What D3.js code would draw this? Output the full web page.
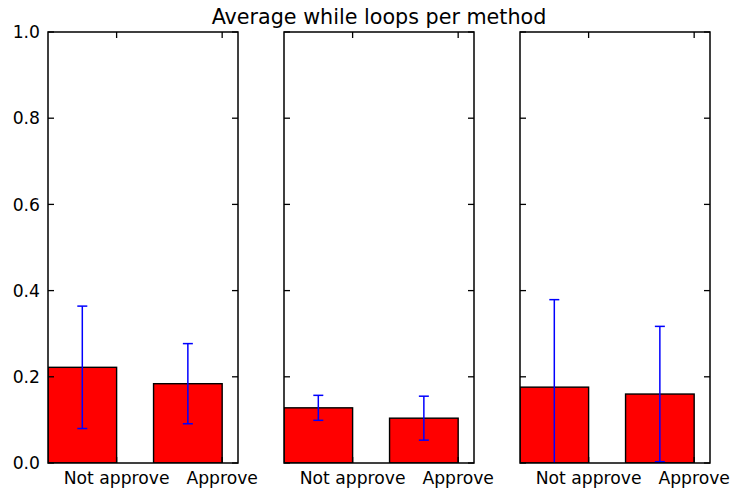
<!DOCTYPE html>
<html>
<head>
<meta charset="utf-8">
<script src="https://cdn.jsdelivr.net/npm/d3@7"></script>
<style>
  html, body { margin: 0; padding: 0; background: #fff; }
  svg { display: block; font-family: "DejaVu Sans", sans-serif; }
</style>
</head>
<body>
<svg id="chart" width="732" height="492"></svg>
<script>
// Average while loops per method: one panel per method, two groups each
const title = "Average while loops per method";
const categories = ["Not approve", "Approve"];
const panelMeans = [
  [0.222, 0.184],
  [0.128, 0.104],
  [0.176, 0.160]
];
const panelErrors = [
  [0.142, 0.093],
  [0.029, 0.051],
  [0.203, 0.157]
];
const yTickValues = [0.0, 0.2, 0.4, 0.6, 0.8, 1.0];

const svg = d3.select("#chart");
const W = 732, H = 492;
const plotTop = 32, plotBottom = 463;
const panelW = 190, panelGap = 46, firstLeft = 48;
const barWidth = 0.65;
const tickLen = 6;
const fontSize = 17.2;

const y = d3.scaleLinear().domain([0, 1]).range([plotBottom, plotTop]);

svg.append("rect").attr("width", W).attr("height", H).attr("fill", "#fff");

const defs = svg.append("defs");

panelMeans.forEach((means, p) => {
  const left = firstLeft + p * (panelW + panelGap);
  const x = d3.scaleLinear().domain([0, 1.8]).range([left, left + panelW]);
  const g = svg.append("g");

  const clipId = "clip" + p;
  defs.append("clipPath").attr("id", clipId)
    .append("rect").attr("x", left).attr("y", plotTop)
    .attr("width", panelW).attr("height", plotBottom - plotTop);

  const plot = g.append("g").attr("clip-path", `url(#${clipId})`);

  // bars: left edge at category index
  plot.selectAll("rect.bar").data(means).join("rect")
    .attr("class", "bar")
    .attr("x", (d, i) => x(i))
    .attr("y", d => y(d))
    .attr("width", (d, i) => x(i + barWidth) - x(i))
    .attr("height", d => y(0) - y(d))
    .attr("fill", "#ff0000")
    .attr("stroke", "#000")
    .attr("stroke-width", 1.4);

  // error bars
  const errs = panelErrors[p];
  const eg = plot.selectAll("g.err").data(means).join("g").attr("class", "err");
  const cx = (i) => x(i + barWidth / 2);
  eg.append("line")
    .attr("x1", (d, i) => cx(i)).attr("x2", (d, i) => cx(i))
    .attr("y1", (d, i) => y(d - errs[i])).attr("y2", (d, i) => y(d + errs[i]))
    .attr("stroke", "#0000ff").attr("stroke-width", 1.5);
  [1, -1].forEach(s => {
    eg.append("line")
      .attr("x1", (d, i) => cx(i) - 5).attr("x2", (d, i) => cx(i) + 5)
      .attr("y1", (d, i) => y(d + s * errs[i])).attr("y2", (d, i) => y(d + s * errs[i]))
      .attr("stroke", "#0000ff").attr("stroke-width", 1.5);
  });

  // frame
  g.append("rect")
    .attr("x", left).attr("y", plotTop)
    .attr("width", panelW).attr("height", plotBottom - plotTop)
    .attr("fill", "none").attr("stroke", "#000").attr("stroke-width", 1.5);

  // y ticks inward on both spines
  yTickValues.forEach(v => {
    g.append("line").attr("x1", left).attr("x2", left + tickLen)
      .attr("y1", y(v)).attr("y2", y(v)).attr("stroke", "#000").attr("stroke-width", 1.3);
    g.append("line").attr("x1", left + panelW).attr("x2", left + panelW - tickLen)
      .attr("y1", y(v)).attr("y2", y(v)).attr("stroke", "#000").attr("stroke-width", 1.3);
  });

  // x ticks at bar right edges, top and bottom
  categories.forEach((c, i) => {
    const tx = x(i + barWidth);
    g.append("line").attr("x1", tx).attr("x2", tx)
      .attr("y1", plotTop).attr("y2", plotTop + tickLen).attr("stroke", "#000").attr("stroke-width", 1.3);
    g.append("line").attr("x1", tx).attr("x2", tx)
      .attr("y1", plotBottom).attr("y2", plotBottom - tickLen).attr("stroke", "#000").attr("stroke-width", 1.3);
    g.append("text")
      .attr("x", tx).attr("y", plotBottom + 20.5)
      .attr("text-anchor", "middle")
      .attr("font-size", fontSize)
      .attr("fill", "#000")
      .text(c);
  });

  // y tick labels only on the first panel
  if (p === 0) {
    g.selectAll("text.ylab").data(yTickValues).join("text")
      .attr("class", "ylab")
      .attr("x", left - 8).attr("y", d => y(d))
      .attr("dy", "0.36em")
      .attr("text-anchor", "end")
      .attr("font-size", fontSize)
      .attr("fill", "#000")
      .text(d => d3.format(".1f")(d));
  }

  // title over the middle panel
  if (p === 1) {
    svg.append("text")
      .attr("x", left + panelW / 2).attr("y", 24)
      .attr("text-anchor", "middle")
      .attr("font-size", 20.7)
      .attr("fill", "#000")
      .text(title);
  }
});
</script>
</body>
</html>
